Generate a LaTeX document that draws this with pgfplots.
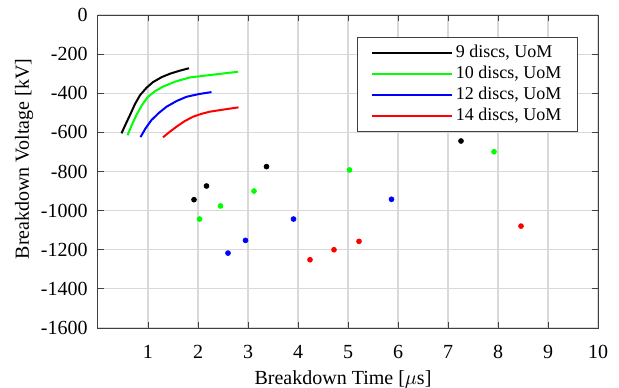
\documentclass[border=0pt]{standalone}
\usepackage{fontspec}
\setmainfont{Liberation Serif}
\usepackage{pgfplots}
\pgfplotsset{compat=1.18}
\begin{document}
\fontsize{10pt}{12pt}\selectfont
\begin{tikzpicture}
\begin{axis}[
  name=ax,
  scale only axis,
  width=250pt, height=156.5pt,
  xmin=0, xmax=10, ymin=-1600, ymax=0,
  xtick={1,2,...,10}, ytick={-1600,-1400,...,0},
  grid=major,
  grid style={black!15, line width=0.6pt},
  axis line style={black!75, line width=0.5pt},
  tick style={black!75, line width=0.5pt},
  tick align=inside, tick pos=both,
  major tick length=3pt,
  /pgf/number format/assume math mode=true,
  /pgf/number format/1000 sep={},
  ticklabel style={font=\fontsize{10pt}{12pt}\selectfont},
  xticklabel style={yshift=-5pt},
  yticklabel style={xshift=-1.7pt},
  xlabel={Breakdown Time [$\mu$s]},
  ylabel={Breakdown Voltage [kV]},
  label style={font=\fontsize{10pt}{12pt}\selectfont},
  xlabel style={at={(axis description cs:0.49,0)}, anchor=north, inner sep=0pt, yshift=-21pt},
  every axis y label/.style={at={(axis description cs:0,0.54)}, anchor=center, inner sep=0pt, xshift=-37pt, rotate=90},
  legend style={at={(0.96,0.93)}, anchor=north east, draw=black!75, fill=white,
    font=\fontsize{9pt}{10.5pt}\selectfont, inner xsep=6.5pt, inner ysep=2.5pt,
    nodes={text height=7pt, text depth=2pt, inner ysep=0.75pt, inner xsep=1.6pt}},
  legend cell align=left,
  legend image code/.code={\draw[#1] (0pt,0pt) -- (40pt,0pt);},
]
\addplot[black, line width=1pt] coordinates {(0.47,-605)(0.55,-560)(0.64,-511)(0.74,-455)(0.84,-410)(0.97,-372)(1.10,-343)(1.27,-318)(1.44,-300)(1.63,-285)(1.82,-272)};
\addlegendentry{9 discs, UoM}
\addplot[green, line width=1pt] coordinates {(0.59,-615)(0.68,-560)(0.77,-511)(0.88,-460)(1.00,-418)(1.15,-388)(1.30,-366)(1.55,-340)(1.84,-319)(2.80,-290)};
\addlegendentry{10 discs, UoM}
\addplot[blue, line width=1pt] coordinates {(0.85,-624)(0.95,-580)(1.07,-537)(1.22,-500)(1.37,-469)(1.57,-440)(1.77,-418)(2.02,-404)(2.27,-394)};
\addlegendentry{12 discs, UoM}
\addplot[red, line width=1pt] coordinates {(1.30,-625)(1.43,-598)(1.57,-571)(1.73,-543)(1.90,-520)(2.07,-505)(2.24,-494)(2.52,-483)(2.81,-472)};
\addlegendentry{14 discs, UoM}
\addplot[only marks, mark=*, mark size=1.2pt, black, forget plot] coordinates {(1.92,-944)(2.17,-874)(3.37,-775)(7.26,-644)};
\addplot[only marks, mark=*, mark size=1.2pt, green, forget plot] coordinates {(2.03,-1043)(2.45,-976)(3.12,-900)(5.03,-792)(7.92,-699)};
\addplot[only marks, mark=*, mark size=1.2pt, blue, forget plot] coordinates {(2.60,-1217)(2.95,-1152)(3.91,-1043)(5.87,-942)};
\addplot[only marks, mark=*, mark size=1.2pt, red, forget plot] coordinates {(4.24,-1251)(4.72,-1200)(5.22,-1157)(8.46,-1079)};
\end{axis}
\pgfresetboundingbox
\path ([shift={(-49pt,-29.5pt)}]ax.south west) rectangle ([shift={(10.5pt,7.5pt)}]ax.north east);
\end{tikzpicture}
\end{document}
